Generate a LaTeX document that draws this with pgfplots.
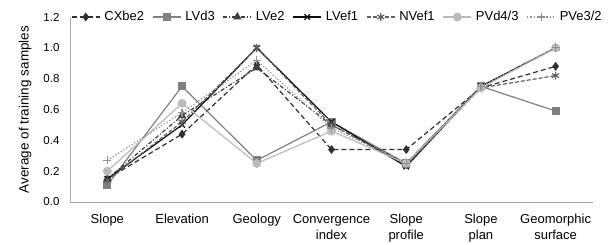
\documentclass[border=0pt]{standalone}
\usepackage{pgfplots}
\pgfplotsset{compat=1.18}
\usepackage{fontspec}
\setmainfont{Liberation Sans}
\definecolor{cA}{HTML}{303030}
\definecolor{cB}{HTML}{808080}
\definecolor{cC}{HTML}{404040}
\definecolor{cD}{HTML}{101010}
\definecolor{cE}{HTML}{606060}
\definecolor{cF}{HTML}{BBBBBB}
\definecolor{cG}{HTML}{909090}
\begin{document}
\fontsize{13}{16}\selectfont
\begin{tikzpicture}
\useasboundingbox (-70pt,-43pt) rectangle (538pt,202pt);
\begin{axis}[
  at={(0,0)}, anchor=south west,
  scale only axis, width=523pt, height=185pt,
  xmin=-0.5, xmax=6.5, ymin=0, ymax=1.2,
  axis x line*=bottom, axis y line*=left,
  axis line style={draw=gray!70, line width=0.8pt},
  major tick length=0pt,
  xtick={0,...,6},
  xticklabels={Slope,Elevation,Geology,{Convergence\\index},{Slope\\profile},{Slope\\plan},{Geomorphic\\surface}},
  xticklabel style={align=center, yshift=-8pt, font=\fontsize{13}{16}\selectfont},
  yticklabel style={xshift=-6pt, font=\fontsize{11.5}{13}\selectfont},
  ytick={0,0.2,...,1.2},
  yticklabel style={/pgf/number format/fixed,/pgf/number format/fixed zerofill,/pgf/number format/precision=1},
  /pgf/number format/assume math mode=true,
  ylabel={Average of training samples},
  ylabel style={font=\fontsize{13.5}{16}\selectfont, at={(axis description cs:-0.086,0.5)}, anchor=center},
  legend columns=7,
  legend style={at={(0,1)}, anchor=west, xshift=1pt, draw=none, fill=none, font=\fontsize{13}{16}\selectfont, column sep=3pt, inner xsep=0pt,
    nodes={inner xsep=1pt},
    /tikz/every even column/.append style={column sep=7pt}},
  legend image code/.code={\draw[mark repeat=2,mark phase=2] plot coordinates {(0pt,0pt) (14pt,0pt) (28pt,0pt)};},
  legend cell align=left,
  every axis plot/.append style={line width=1.2pt},
]
\addplot[cA, dash pattern=on 5pt off 3pt, mark=diamond*, mark size=3.5pt, mark options={solid}] coordinates {(0,0.15) (1,0.44) (2,0.89) (3,0.34) (4,0.34) (5,0.74) (6,0.88)};
\addlegendentry{CXbe2}
\addplot[cB, mark=square*, mark size=3.5pt] coordinates {(0,0.11) (1,0.75) (2,0.27) (3,0.52) (4,0.25) (5,0.75) (6,0.59)};
\addlegendentry{LVd3}
\addplot[cC, dash pattern=on 4pt off 2pt on 1pt off 2pt, mark=triangle*, mark size=3.8pt, mark options={solid}] coordinates {(0,0.15) (1,0.56) (2,0.87) (3,0.50) (4,0.25) (5,0.75) (6,1.0)};
\addlegendentry{LVe2}
\addplot[cD, mark=x, mark size=4pt] coordinates {(0,0.15) (1,0.50) (2,1.0) (3,0.52) (4,0.23) (5,0.75) (6,1.0)};
\addlegendentry{LVef1}
\addplot[cE, dash pattern=on 4pt off 2pt, mark=asterisk, mark size=4pt, mark options={solid}] coordinates {(0,0.14) (1,0.52) (2,1.0) (3,0.50) (4,0.24) (5,0.74) (6,0.82)};
\addlegendentry{NVef1}
\addplot[cF, mark=*, mark size=3.8pt] coordinates {(0,0.20) (1,0.64) (2,0.25) (3,0.46) (4,0.25) (5,0.74) (6,1.0)};
\addlegendentry{PVd4/3}
\addplot[cG, dotted, mark=+, mark size=4pt, mark options={solid}] coordinates {(0,0.27) (1,0.58) (2,0.92) (3,0.48) (4,0.25) (5,0.75) (6,1.0)};
\addlegendentry{PVe3/2}
\end{axis}
\end{tikzpicture}
\end{document}
